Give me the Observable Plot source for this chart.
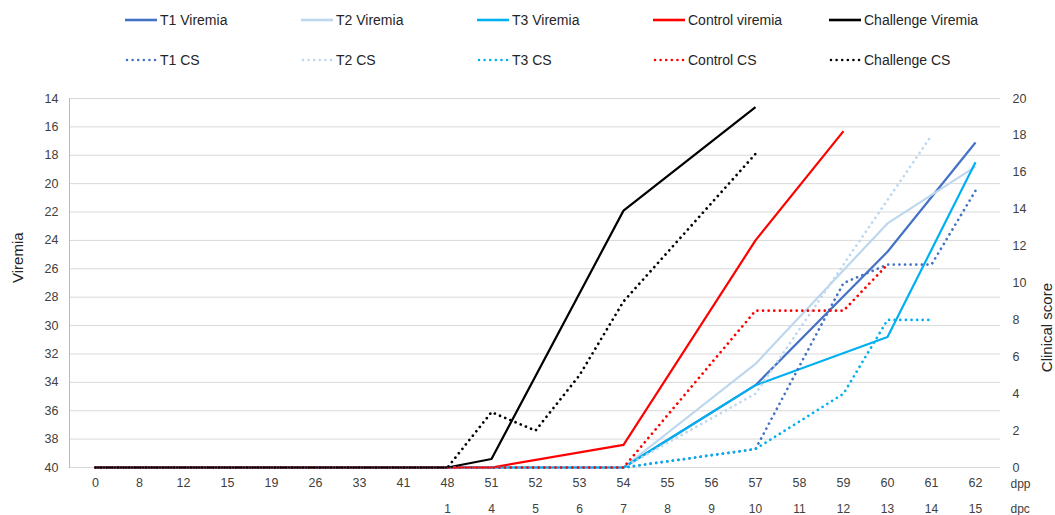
<!DOCTYPE html>
<html>
<head>
<meta charset="utf-8">
<script src="https://cdn.jsdelivr.net/npm/d3@7"></script>
<script src="https://cdn.jsdelivr.net/npm/@observablehq/plot@0.6"></script>
<style>
  html, body { margin: 0; padding: 0; background: #fff; }
  body { width: 1055px; height: 515px; overflow: hidden; font-family: "Liberation Sans", Arial, sans-serif; }
  #legend { position: relative; height: 80px; }
  .item { position: absolute; display: flex; align-items: center; font-size: 14px; color: #262626; white-space: nowrap; }
  .item svg { margin-right: 3px; }
  #chart svg { display: block; }
</style>
</head>
<body>
<div id="legend"></div>
<div id="chart"></div>
<script>
// Days post prime (x categories) and matching days post challenge
const dpp = ["0","8","12","15","19","26","33","41","48","51","52","53","54","55","56","57","58","59","60","61","62"];
const dpc = [null,null,null,null,null,null,null,null,"1","4","5","6","7","8","9","10","11","12","13","14","15"];

// Viremia (Ct, reversed axis); null = not sampled that day
const t1Viremia        = [40,40,40,40,40,40,40,40,40,40,40,40,40,null,null,34.2,null,null,24.8,null,17.1];
const t2Viremia        = [40,40,40,40,40,40,40,40,40,40,40,40,40,null,null,32.7,null,null,22.8,null,18.8];
const t3Viremia        = [40,40,40,40,40,40,40,40,40,40,40,40,40,null,null,34.2,null,null,30.8,null,18.5];
const controlViremia   = [40,40,40,40,40,40,40,40,40,40,null,null,38.4,null,null,24.0,null,16.3,null,null,null];
const challengeViremia = [40,40,40,40,40,40,40,40,40,39.4,null,null,21.9,null,null,14.6,null,null,null,null,null];

// Clinical scores
const t1CS        = [0,0,0,0,0,0,0,0,0,0,0,0,0,null,null,1,null,10,11,11,15];
const t2CS        = [0,0,0,0,0,0,0,0,0,0,0,0,0,null,null,4,null,null,null,18,null];
const t3CS        = [0,0,0,0,0,0,0,0,0,0,0,0,0,null,null,1,null,4,8,8,null];
const controlCS   = [0,0,0,0,0,0,0,0,0,0,0,0,0,null,null,8.5,null,8.5,11,null,null];
const challengeCS = [0,0,0,0,0,0,0,0,0,3,2,5,9,null,null,17,null,null,null,null,null];

const viremiaTicks = d3.range(14, 41, 2);
const csTicks = d3.range(0, 21, 2);

// Secondary axis: clinical score 0..20 spans the viremia range 40..14
const csToV = c => 40 - c * (26 / 20);
const vToCs = v => (40 - v) * (20 / 26);

const colors = {T1: "#4472C4", T2: "#BDD7EE", T3: "#00B0F0", Control: "#FF0000", Challenge: "#000000"};

const series = [
  {name: "T1 Viremia", values: t1Viremia, color: colors.T1, cs: false},
  {name: "T2 Viremia", values: t2Viremia, color: colors.T2, cs: false},
  {name: "T3 Viremia", values: t3Viremia, color: colors.T3, cs: false},
  {name: "Control viremia", values: controlViremia, color: colors.Control, cs: false},
  {name: "Challenge Viremia", values: challengeViremia, color: colors.Challenge, cs: false},
  {name: "T1 CS", values: t1CS, color: colors.T1, cs: true},
  {name: "T2 CS", values: t2CS, color: colors.T2, cs: true},
  {name: "T3 CS", values: t3CS, color: colors.T3, cs: true},
  {name: "Control CS", values: controlCS, color: colors.Control, cs: true},
  {name: "Challenge CS", values: challengeCS, color: colors.Challenge, cs: true}
];

const dotDash = "0.01 5.6";

// Points of one series, skipping days without a sample so the line bridges them
function points(s) {
  const out = [];
  s.values.forEach((v, i) => {
    if (v != null) out.push({day: dpp[i], v: s.cs ? csToV(v) : v});
  });
  return out;
}

// Legend: two rows of five entries
const legend = document.getElementById("legend");
series.forEach((s, i) => {
  const col = i % 5, row = Math.floor(i / 5);
  const div = document.createElement("div");
  div.className = "item";
  div.style.left = (125 + col * 176) + "px";
  div.style.top = (row === 0 ? 12 : 52) + "px";
  const sw = s.cs
    ? `<svg width="32" height="6"><line x1="2" x2="31" y1="3" y2="3" stroke="${s.color}" stroke-width="2.6" stroke-linecap="round" stroke-dasharray="${dotDash}"/></svg>`
    : `<svg width="32" height="6"><line x1="0" x2="32" y1="3" y2="3" stroke="${s.color}" stroke-width="2.6"/></svg>`;
  div.innerHTML = sw + `<span>${s.name}</span>`;
  legend.appendChild(div);
});

const dpcLabels = dpp.map((d, i) => ({day: d, label: dpc[i]})).filter(d => d.label != null);

const lineMarks = series.map(s => Plot.line(points(s), {
  x: "day",
  y: "v",
  stroke: s.color,
  strokeWidth: s.cs ? 2.7 : 2.2,
  strokeDasharray: s.cs ? dotDash : null,
  strokeLinecap: s.cs ? "round" : "butt",
  strokeLinejoin: "round"
}));

const chart = Plot.plot({
  width: 1055,
  height: 435,
  marginTop: 18,
  marginBottom: 48,
  marginLeft: 69,
  marginRight: 55,
  style: {fontFamily: "'Liberation Sans', Arial, sans-serif", fontSize: "12px", color: "#404040", background: "#fff"},
  x: {type: "point", domain: dpp, padding: 0.5},
  y: {domain: [40, 14]},
  marks: [
    Plot.gridY(viremiaTicks, {stroke: "#D9D9D9", strokeOpacity: 1, strokeWidth: 1}),
    Plot.frame({anchor: "left", stroke: "#9DC3E6", strokeWidth: 1}),
    Plot.axisY(viremiaTicks, {anchor: "left", tickSize: 0, tickPadding: 11, fontSize: 12.5, label: null}),
    Plot.axisY(csTicks.map(csToV), {anchor: "right", tickSize: 0, tickPadding: 12, fontSize: 12.5, label: null,
      tickFormat: v => String(Math.round(vToCs(v)))}),
    Plot.axisX({tickSize: 0, tickPadding: 11, fontSize: 12.5, label: null}),
    Plot.text(dpcLabels, {x: "day", text: "label", frameAnchor: "bottom", lineAnchor: "top", dy: 37, fontSize: 12, fill: "#404040"}),
    Plot.text(["dpp"], {frameAnchor: "bottom-right", textAnchor: "start", lineAnchor: "top", dx: 10, dy: 12, fontSize: 12, fill: "#404040"}),
    Plot.text(["dpc"], {frameAnchor: "bottom-right", textAnchor: "start", lineAnchor: "top", dx: 10, dy: 37, fontSize: 12, fill: "#404040"}),
    Plot.text(["Viremia"], {frameAnchor: "left", rotate: -90, dx: -51, fontSize: 15, fill: "#262626"}),
    Plot.text(["Clinical score"], {frameAnchor: "right", rotate: -90, dx: 47, fontSize: 15, fill: "#262626"}),
    ...lineMarks
  ]
});
document.getElementById("chart").appendChild(chart);
</script>
</body>
</html>
